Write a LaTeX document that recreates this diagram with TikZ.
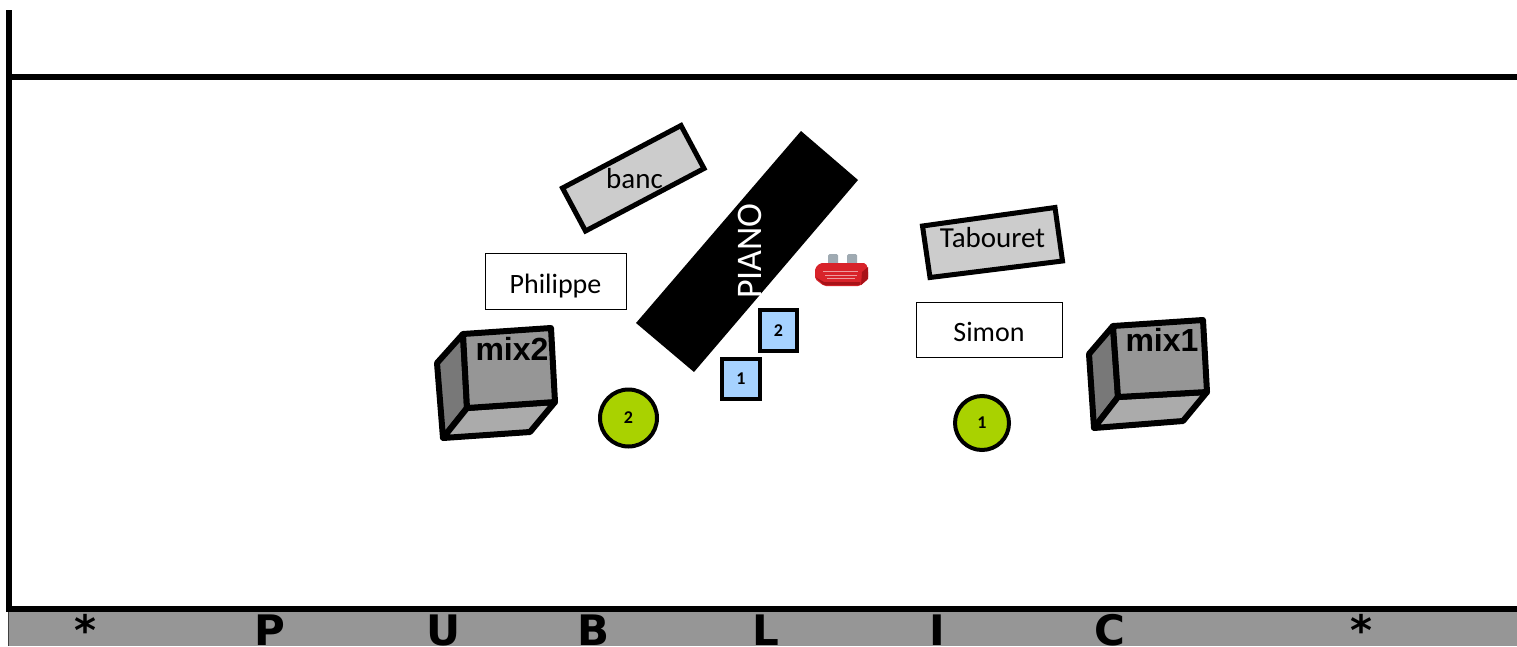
\documentclass[tikz,border=0pt]{standalone}
\usepackage{fontspec}
\setmainfont{Carlito}
\newfontfamily\arialf{Liberation Sans}
\newfontfamily\verdf{DejaVu Sans}
\definecolor{cubefront}{HTML}{969696}
\definecolor{cubeside}{HTML}{787878}
\definecolor{cubebottom}{HTML}{ABABAB}
\definecolor{bench}{HTML}{CCCCCC}
\definecolor{mon}{HTML}{A6D2FF}
\definecolor{mic}{HTML}{A9D200}
\definecolor{pub}{HTML}{969696}
\definecolor{amp}{HTML}{D8232A}
\definecolor{ampdark}{HTML}{A81218}
\definecolor{knob}{HTML}{9FAAB2}
\tikzset{
  wall/.style={line width=6pt},
  person/.style={draw=black,line width=0.9pt,fill=white,inner sep=0pt,text height=24pt,text depth=0pt,font=\fontsize{28}{30}\selectfont},
  seat/.style={draw=black,line width=5pt,fill=bench,line join=miter},
  squarebox/.style={draw=black,line width=4pt,fill=mon,inner sep=0pt,font=\bfseries\fontsize{18}{20}\selectfont},
  round/.style={circle,draw=black,line width=4pt,fill=mic,inner sep=0pt,font=\bfseries\fontsize{18}{20}\selectfont},
  cube/.style={draw=black,line width=6pt,line join=round},
  mixlabel/.style={font=\arialf\bfseries\fontsize{32}{34}\selectfont,inner sep=0pt},
  publabel/.style={font=\verdf\bfseries\fontsize{42}{46}\selectfont,inner sep=0pt,anchor=base}
}
\begin{document}
\begin{tikzpicture}[x=1pt,y=-1pt]
\useasboundingbox (0,0) rectangle (1517,646);
\begin{scope}
\clip (0,0) rectangle (1517,646);
% public band
\fill[pub] (8,612) rectangle (1517,646);
\draw[line width=1pt,black!75] (8,612) -- (8,646);
\draw[wall] (9,10) -- (9,612);
\draw[wall] (6,77) -- (1517,77);
\draw[wall] (6,609) -- (1517,609);
\foreach \n/\xx/\t in {s1/85.5/*,p/270/P,u/444/U,b/593/B,l/766/L,i/937/I,c/1110/C,s2/1361/*}
  \node[publabel] (pub\n) at (\xx,645.5) {\t};
\end{scope}
% bench
\draw[seat] (562.5,188) -- (681,125.5) -- (704,168.5) -- (585.5,231) -- cycle;
\node[font=\fontsize{29}{30}\selectfont,inner sep=0pt] (banc) at (634.5,179) {banc};
% piano
\fill[black] (801,131) -- (858,180) -- (694,372) -- (636,323) -- cycle;
\node[rotate=90,text=white,font=\fontsize{36}{38}\selectfont,inner sep=0pt] (piano) at (750,251) {PIANO};
% stool
\draw[seat] (922.5,226) -- (1055,207.5) -- (1062.5,261) -- (930,277.5) -- cycle;
\node[font=\fontsize{29}{30}\selectfont,inner sep=0pt] (tabouret) at (992.5,238) {Tabouret};
% people
\node[person,minimum width=141pt,minimum height=56pt] (philippe) at (555.5,281) {Philippe};
\node[person,minimum width=146pt,minimum height=55pt] (simon) at (989,329.5) {Simon};
% mix2
\draw[cube,fill=cubeside] (463,334) -- (437,363) -- (443,438) -- (467,408) -- cycle;
\draw[cube,fill=cubebottom] (467,408) -- (443,438) -- (530,432) -- (555,402) -- cycle;
\draw[cube,fill=cubefront] (463,334) -- (551,328) -- (555,402) -- (467,408) -- cycle;
\node[mixlabel] (mixtwo) at (512,349) {mix2};
% mix1
\draw[cube,fill=cubeside] (1113,326) -- (1089,354) -- (1094,428) -- (1118,397) -- cycle;
\draw[cube,fill=cubebottom] (1118,397) -- (1094,428) -- (1183,421) -- (1207,392) -- cycle;
\draw[cube,fill=cubefront] (1113,326) -- (1203,320) -- (1207,392) -- (1118,397) -- cycle;
\node[mixlabel] (mixone) at (1162,340) {mix1};
% monitors
\node[squarebox,minimum width=37pt,minimum height=41pt] (montwo) at (778.5,330.5) {2};
\node[squarebox,minimum width=38pt,minimum height=40pt] (monone) at (741,379) {1};
% mics
\node[round,minimum size=57pt] (mictwo) at (628.5,418) {2};
\node[round,minimum size=54pt] (micone) at (982,423) {1};
% amp
\fill[knob,rounded corners=1.5pt] (828,254) rectangle (838,270);
\fill[knob,rounded corners=1.5pt] (847,254) rectangle (857,270);
\fill[amp,rounded corners=2pt] (820,263) -- (866,263) -- (868,270) -- (868,279) -- (860,286) -- (824,286) -- (815,279) -- (815,268) -- cycle;
\fill[ampdark] (861,285) -- (868,279) -- (868,267) -- (862,272) -- cycle;
\fill[ampdark] (815,277) -- (824,285) -- (860,285) -- (860,282) -- (824,282) -- cycle;
\draw[white!55!amp,line width=0.9pt] (823,271.5) -- (858,271.5) (825,275) -- (857,275) (827,278.5) -- (855,278.5);
\end{tikzpicture}
\end{document}
